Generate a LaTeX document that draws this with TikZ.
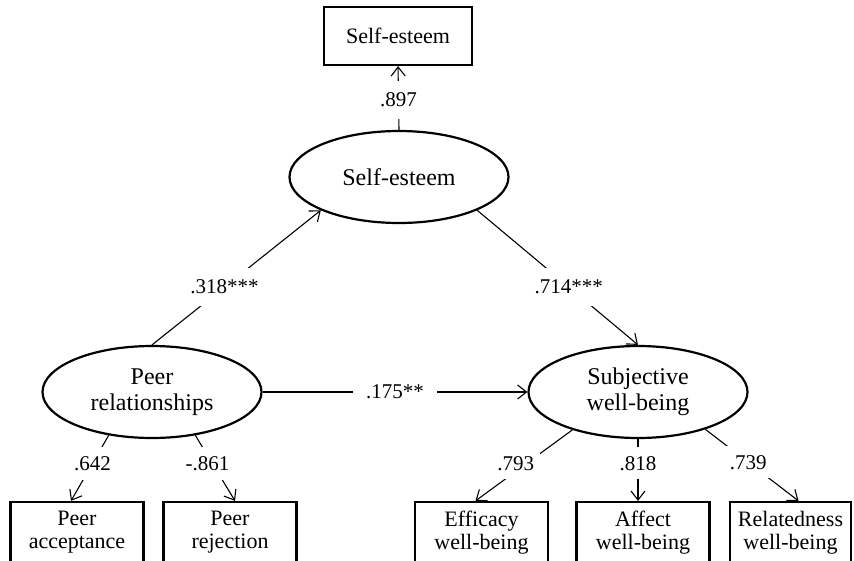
\documentclass[tikz,border=0pt]{standalone}
\usepackage{fontspec}
\setmainfont{Liberation Serif}
\usetikzlibrary{shapes.geometric,arrows.meta,calc}
\begin{document}
\begin{tikzpicture}[x=1pt,y=-1pt,
  txt/.style={font=\fontsize{21}{24}\selectfont},
  latent/.style={ellipse,draw,line width=2.2pt,minimum width=219pt,minimum height=92pt,inner sep=0pt,align=center,font=\fontsize{24}{26}\selectfont},
  observed/.style={rectangle,draw,line width=2.2pt,minimum width=133pt,minimum height=61pt,inner sep=0pt,align=center,font=\fontsize{22}{23}\selectfont},
  conn/.style={line width=1.1pt,-{Straight Barb[length=9pt,width=14pt,line width=1.1pt]}},
  coef/.style={txt,fill=white,inner xsep=13pt,inner ysep=12pt},
  loadlbl/.style={txt,fill=white,inner xsep=6pt,inner ysep=9pt}
]
\useasboundingbox (0,0) rectangle (854,560);

% observed indicator of self-esteem
\node[observed,minimum width=148pt,minimum height=58pt] (setop) at (398,36) {Self-esteem};

% latent variables
\node[latent] (se) at (399,177) {Self-esteem};
\node[latent] (peer) at (152,392) {Peer\\relationships};
\node[latent] (swb) at (638,392) {Subjective\\well-being};

% observed indicators
\node[observed] (acc) at (77,532.5) {Peer\\acceptance};
\node[observed] (rej) at (230,532.5) {Peer\\rejection};
\node[observed] (eff) at (481.5,532.5) {Efficacy\\well-being};
\node[observed] (aff) at (643,532.5) {Affect\\well-being};
\node[observed,minimum width=121pt] (rel) at (790.5,532.5) {Relatedness\\well-being};

% structural paths
\draw[conn] (se.north) -- node[coef,pos=0.47] (l897) {.897} (setop.south);
\draw[conn] (peer.north) -- node[coef,pos=0.43] (l318) {.318***} (se.south west);
\draw[conn] (se.south east) -- node[coef,pos=0.57] (l714) {.714***} (swb.north);
\draw[conn] (peer.east) -- node[coef,pos=0.5] (l175) {.175**} (swb.west);

% loadings
\draw[conn] (peer.225) -- node[loadlbl,pos=0.43] (l642) {.642} ([xshift=-6pt]acc.north);
\draw[conn] (peer.315) -- node[loadlbl,pos=0.43,xshift=-5pt] (l861) {-.861} ([xshift=5pt]rej.north);
\draw[conn] (swb.210) -- node[loadlbl,pos=0.47,xshift=-11pt] (l793) {.793} ([xshift=-6pt]eff.north);
\draw[conn] (swb.south) -- node[loadlbl,pos=0.39] (l818) {.818} (swb.south |- aff.north);
\draw[conn] (swb.331) -- node[loadlbl,pos=0.46] (l739) {.739} ([xshift=8pt]rel.north);
\end{tikzpicture}
\end{document}
